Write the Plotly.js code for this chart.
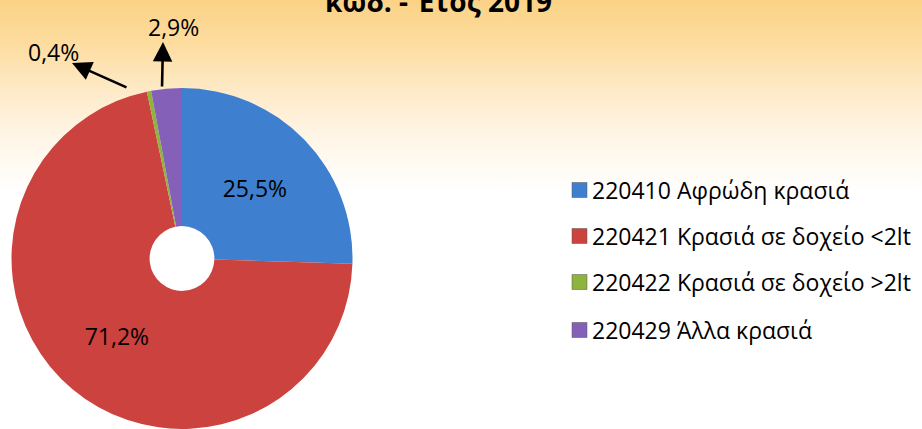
<!DOCTYPE html>
<html>
<head>
<meta charset="utf-8">
<script src="https://cdn.plot.ly/plotly-3.0.1.min.js"></script>
<style>
  html, body { margin: 0; padding: 0; }
  #chart {
    width: 922px; height: 429px;
    background: linear-gradient(to bottom, #fbd286 0%, #fddc9f 10%, #feebcb 22%, #fff6e9 33%, #ffffff 45%, #ffffff 100%);
  }
</style>
</head>
<body>
<div id="chart"></div>
<script>
const labels = ["220410 Αφρώδη κρασιά", "220421 Κρασιά σε δοχείο <2lt", "220422 Κρασιά σε δοχείο >2lt", "220429 Άλλα κρασιά"];
const values = [25.5, 71.2, 0.4, 2.9];
const colors = ["#3f7fcf", "#cc423e", "#8db43e", "#8560b8"];
const titleText = "κωδ. - Έτος 2019";

const W = 922, H = 429;
const px = x => x / W;
const py = y => 1 - y / H;
const fmt = v => v.toFixed(1).replace('.', ',') + '%';
const FONT = "Open Sans, DejaVu Sans, sans-serif";
const FS = 23;

const trace = {
  type: 'pie',
  labels: labels,
  values: values,
  sort: false,
  direction: 'clockwise',
  rotation: 0,
  hole: 0.19,
  marker: { colors: colors, line: { width: 0 } },
  textinfo: 'percent',
  texttemplate: '%{percent:.1%}',
  textposition: ['inside', 'inside', 'none', 'none'],
  insidetextorientation: 'horizontal',
  textfont: { family: FONT, size: FS, color: '#000000' },
  domain: { x: [px(10), px(354)], y: [0, py(88)] },
  showlegend: false,
  hoverinfo: 'label+percent'
};

const annotations = [
  { xref: 'paper', yref: 'paper', x: px(438), y: py(22), xanchor: 'center', yanchor: 'bottom',
    text: '<b>' + titleText + '</b>', showarrow: false, font: { family: FONT, size: 28, color: '#000' } },
  // small-slice labels
  { xref: 'paper', yref: 'paper', x: px(53), y: py(52), xanchor: 'center', yanchor: 'middle',
    text: fmt(values[2]), showarrow: false, font: { family: FONT, size: FS, color: '#000' } },
  { xref: 'paper', yref: 'paper', x: px(173), y: py(27), xanchor: 'center', yanchor: 'middle',
    text: fmt(values[3]), showarrow: false, font: { family: FONT, size: FS, color: '#000' } },
  // arrows
  { xref: 'paper', yref: 'paper', x: px(72), y: py(63), ax: 56, ay: 25, text: '',
    showarrow: true, arrowhead: 2, arrowsize: 1.5, arrowwidth: 2.6, arrowcolor: '#000' },
  { xref: 'paper', yref: 'paper', x: px(163), y: py(42), ax: -1, ay: 46, text: '',
    showarrow: true, arrowhead: 2, arrowsize: 1.5, arrowwidth: 2.6, arrowcolor: '#000' }
];

const shapes = [];
const rowY = [190, 236, 282, 330];
labels.forEach((lab, i) => {
  annotations.push({ xref: 'paper', yref: 'paper', x: px(590), y: py(rowY[i]), xanchor: 'left', yanchor: 'middle',
    text: lab.replace(/</g, '&lt;').replace(/>/g, '&gt;'), showarrow: false, font: { family: FONT, size: FS, color: '#000' } });
  shapes.push({ type: 'rect', xref: 'paper', yref: 'paper',
    x0: px(572), x1: px(587), y0: py(rowY[i] + 7.5), y1: py(rowY[i] - 7.5),
    fillcolor: colors[i], line: { width: 0.5, color: '#555' } });
});

const layout = {
  width: W, height: H,
  margin: { l: 0, r: 0, t: 0, b: 0 },
  paper_bgcolor: 'rgba(0,0,0,0)',
  plot_bgcolor: 'rgba(0,0,0,0)',
  separators: ',.',
  showlegend: false,
  annotations: annotations,
  shapes: shapes,
  font: { family: FONT }
};

Plotly.newPlot('chart', [trace], layout, { displayModeBar: false, staticPlot: true });
</script>
</body>
</html>
